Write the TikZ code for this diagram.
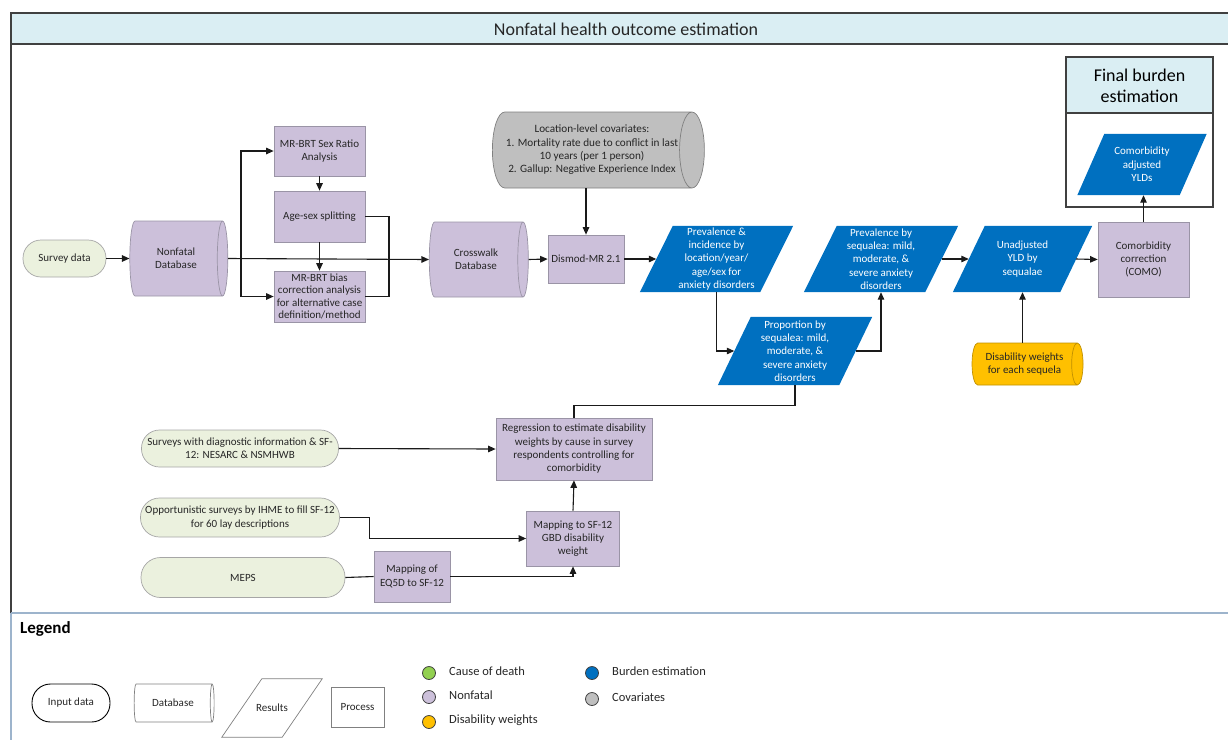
\documentclass[tikz,border=0pt]{standalone}
\usepackage{fontspec}
\setmainfont{Carlito}
\usetikzlibrary{shapes.geometric,arrows.meta,backgrounds,calc}
\definecolor{lav}{HTML}{CCC0DA}
\definecolor{lavborder}{HTML}{9A94A6}
\definecolor{bblue}{HTML}{0070C0}
\definecolor{hdr}{HTML}{DAEEF3}
\definecolor{grn}{HTML}{EBF1DE}
\definecolor{grnborder}{HTML}{A6A6A6}
\definecolor{gry}{HTML}{BFBFBF}
\definecolor{gryborder}{HTML}{808080}
\definecolor{orng}{HTML}{FFC000}
\definecolor{orngborder}{HTML}{C09000}
\definecolor{txt}{HTML}{262626}
\definecolor{framecol}{HTML}{404040}
\definecolor{legline}{HTML}{9DB4CC}
\definecolor{conncol}{HTML}{1A1A1A}
\definecolor{cgreen}{HTML}{92D050}
\newcommand\parpath[3]{\path[#3] ($(#1.south west)+(-#2,0)$) -- ($(#1.south east)+(-#2,0)$) -- ($(#1.north east)+(#2,0)$) -- ($(#1.north west)+(#2,0)$) -- cycle;}
\begin{document}
\begin{tikzpicture}[x=1pt,y=-1pt,
 bfont/.style={font=\fontsize{11}{13.3}\selectfont, text=txt, align=center, inner sep=1pt},
 proc/.style={bfont, rectangle, draw=lavborder, fill=lav, line width=0.7pt},
 inp/.style={bfont, rectangle, draw=grnborder, fill=grn, line width=0.7pt, inner xsep=0pt},
 db/.style={bfont, cylinder, shape aspect=0.5, draw=lavborder, fill=lav, line width=0.7pt, inner sep=0pt},
 res/.style={bfont, rectangle, text=white, inner sep=0pt},
 conn/.style={draw=conncol, line width=1.1pt},
 arr/.style={conn, -{Triangle[length=7.5pt,width=6.5pt]}},
 legtxt/.style={font=\fontsize{12.5}{15}\selectfont, text=txt, anchor=west, inner sep=0pt},
 dot/.style={circle, draw=framecol, line width=0.8pt, minimum size=13pt, inner sep=0pt},
]
\useasboundingbox (0,0) rectangle (1228,740);
% outer frame
\fill[hdr] (11,13) rectangle (1228,44);
\draw[framecol, line width=1.2pt] (1228,13) -- (11,13) -- (11,613);
\draw[framecol, line width=1.2pt] (11,44) -- (1228,44);
\node[font=\fontsize{18}{21}\selectfont, text=txt] (title) at (626,29) {Nonfatal health outcome estimation};
% final burden box
\fill[hdr] (1066,57) rectangle (1213,113);
\draw[framecol, line width=1.2pt] (1066,57) rectangle (1213,207);
\draw[framecol, line width=1.2pt] (1066,113) -- (1213,113);
\node[font=\fontsize{18}{21}\selectfont, text=black, align=center] (finalhdr) at (1139.5,86) {Final burden\\estimation};

% nodes
\node[inp, rounded corners=18pt, minimum width=83pt, minimum height=37pt] (survey) at (64.5,258.5) {Survey data};
\node[db, minimum height=98pt, minimum width=75pt] (nfdb) at (176,258.5) {Nonfatal\\Database};
\node[proc, minimum width=91pt, minimum height=50pt] (sexratio) at (319.5,151) {MR-BRT Sex Ratio\\Analysis};
\node[proc, minimum width=91pt, minimum height=51pt] (agesex) at (319.5,216.5) {Age-sex splitting};
\node[proc, minimum width=91pt, minimum height=51pt, inner xsep=0pt, font=\fontsize{11}{12.6}\selectfont] (bias) at (319.5,296.5) {MR-BRT bias\\correction analysis\\for alternative case\\definition/method};
\node[db, minimum height=99pt, minimum width=75pt] (cwdb) at (476,259.5) {Crosswalk\\Database};
\node[proc, minimum width=76pt, minimum height=48pt] (dismod) at (586,259) {Dismod-MR 2.1};
\node[db, fill=gry, draw=gryborder, minimum height=212pt, minimum width=76pt, font=\fontsize{11.2}{13.3}\selectfont] (covar) at (592,150) {Location-level covariates:\\1. Mortality rate due to conflict in last\\10 years (per 1 person)\\2. Gallup: Negative Experience Index};
\node[res, minimum width=120pt, minimum height=66pt] (previnc) at (716.5,259) {Prevalence \&\\incidence by\\location/year/\\age/sex for\\anxiety disorders};
\node[res, minimum width=121pt, minimum height=66pt] (prevseq) at (881,259) {Prevalence by\\sequalea: mild,\\moderate, \&\\severe anxiety\\disorders};
\node[res, minimum width=107pt, minimum height=66pt] (unadj) at (1022.5,259) {Unadjusted\\YLD by\\sequalae};
\node[proc, minimum width=91pt, minimum height=75pt] (como) at (1143.5,259.5) {Comorbidity\\correction\\(COMO)};
\node[res, minimum width=102pt, minimum height=61pt] (comadj) at (1142,164.5) {Comorbidity\\adjusted\\YLDs};
\node[res, minimum width=121pt, minimum height=68pt] (prop) at (795,351) {Proportion by\\sequalea: mild,\\moderate, \&\\severe anxiety\\disorders};
\node[db, fill=orng, draw=orngborder, minimum height=111pt, minimum width=42pt] (dw) at (1024.5,364) {Disability weights\\for each sequela};

\node[inp, rounded corners=18pt, minimum width=197pt, minimum height=37pt] (survdiag) at (240,448.5) {Surveys with diagnostic information \& SF-\\12: NESARC \& NSMHWB};
\node[proc, minimum width=156pt, minimum height=62pt] (regr) at (574,449) {Regression to estimate disability\\weights by cause in survey\\respondents controlling for\\comorbidity};
\node[inp, rounded corners=19pt, minimum width=199pt, minimum height=39pt] (opp) at (240,517.5) {Opportunistic surveys by IHME to fill SF-12\\for 60 lay descriptions};
\node[proc, minimum width=93pt, minimum height=55pt] (mapsf) at (573,538.5) {Mapping to SF-12\\GBD disability\\weight};
\node[inp, rounded corners=19.5pt, minimum width=204pt, minimum height=40pt] (meps) at (243,577.5) {MEPS};
\node[proc, minimum width=76pt, minimum height=51pt] (eq5d) at (412,576.5) {Mapping of\\EQ5D to SF-12};

% parallelogram backgrounds
\begin{scope}[on background layer]
\parpath{previnc}{16.5}{fill=bblue}
\parpath{prevseq}{16.5}{fill=bblue}
\parpath{unadj}{16}{fill=bblue}
\parpath{comadj}{13.5}{fill=bblue}
\parpath{prop}{16.5}{fill=bblue}
\end{scope}

% connectors
\coordinate (br) at (241,258.5);
\coordinate (mrg) at (389,258.5);
\draw[arr] (survey.east) -- (nfdb.west);
\draw[arr] (nfdb.east) -- (cwdb.west);
\draw[arr] (br) |- (sexratio.west);
\draw[arr] (br) |- (bias.west);
\draw[arr] (sexratio.south) -- (agesex.north);
\draw[arr] (agesex.south) -- (bias.north);
\draw[conn] (agesex.east) -| (mrg) |- (bias.east);
\draw[arr] (cwdb.east) -- (dismod.west);
\draw[arr] (dismod.north |- covar.south) -- (dismod.north);
\draw[arr] (dismod.east) -- (previnc.west);
\draw[arr] (previnc.south) |- (prop.west);
\draw[arr] (prop.east) -| (prevseq.south);
\draw[arr] (prevseq.east) -- (unadj.west);
\draw[arr] (unadj.east) -- (como.west);
\draw[arr] (unadj.south |- dw.north) -- (unadj.south);
\draw[arr] (como.north) -- (como.north |- comadj.south);
\draw[conn] (prop.south) -- ++(0,20) -| (regr.north);
\draw[arr] (survdiag.east) -- (regr.west);
\draw[arr] (opp.east) -- ++(30,0) |- (mapsf.west);
\draw[arr] (mapsf.north) -- (regr.south);
\draw[conn] (meps.east) -- (eq5d.west);
\draw[arr] (eq5d.east) -| (mapsf.south);

% legend
\draw[legline, line width=1.2pt] (11,613) -- (1228,613);
\draw[legline, line width=1.2pt] (11,613) -- (11,740);
\node[font=\fontsize{17}{20}\selectfont\bfseries, text=black, anchor=west, inner sep=0pt] (legendtitle) at (20,629) {Legend};
\node[bfont, rectangle, rounded corners=18.5pt, draw=black, fill=white, line width=0.9pt, minimum width=78pt, minimum height=38pt] (leginput) at (71,703) {Input data};
\node[bfont, cylinder, shape aspect=0.5, draw=gryborder, fill=white, line width=0.7pt, inner sep=0pt, minimum height=80pt, minimum width=38pt] (legdb) at (173,703) {Database};
\node[bfont, rectangle, inner sep=0pt, minimum width=60pt, minimum height=58pt] (legres) at (272,708) {Results};
\begin{scope}[on background layer]
\parpath{legres}{20}{draw=gryborder, fill=white, line width=0.7pt}
\end{scope}
\node[bfont, rectangle, draw=gryborder, fill=white, line width=0.7pt, minimum width=53pt, minimum height=40pt] (legproc) at (357.5,707) {Process};
\node[dot, fill=cgreen] (d1) at (429,673) {};
\node[dot, fill=lav] (d2) at (429,697) {};
\node[dot, fill=orng] (d3) at (429,722) {};
\node[dot, fill=bblue] (d4) at (592,673) {};
\node[dot, fill=gry] (d5) at (592,699) {};
\node[legtxt] (t1) at (449,671) {Cause of death};
\node[legtxt] (t2) at (449,695) {Nonfatal};
\node[legtxt] (t3) at (449,720) {Disability weights};
\node[legtxt] (t4) at (612,671) {Burden estimation};
\node[legtxt] (t5) at (612,697) {Covariates};
\end{tikzpicture}
\end{document}
